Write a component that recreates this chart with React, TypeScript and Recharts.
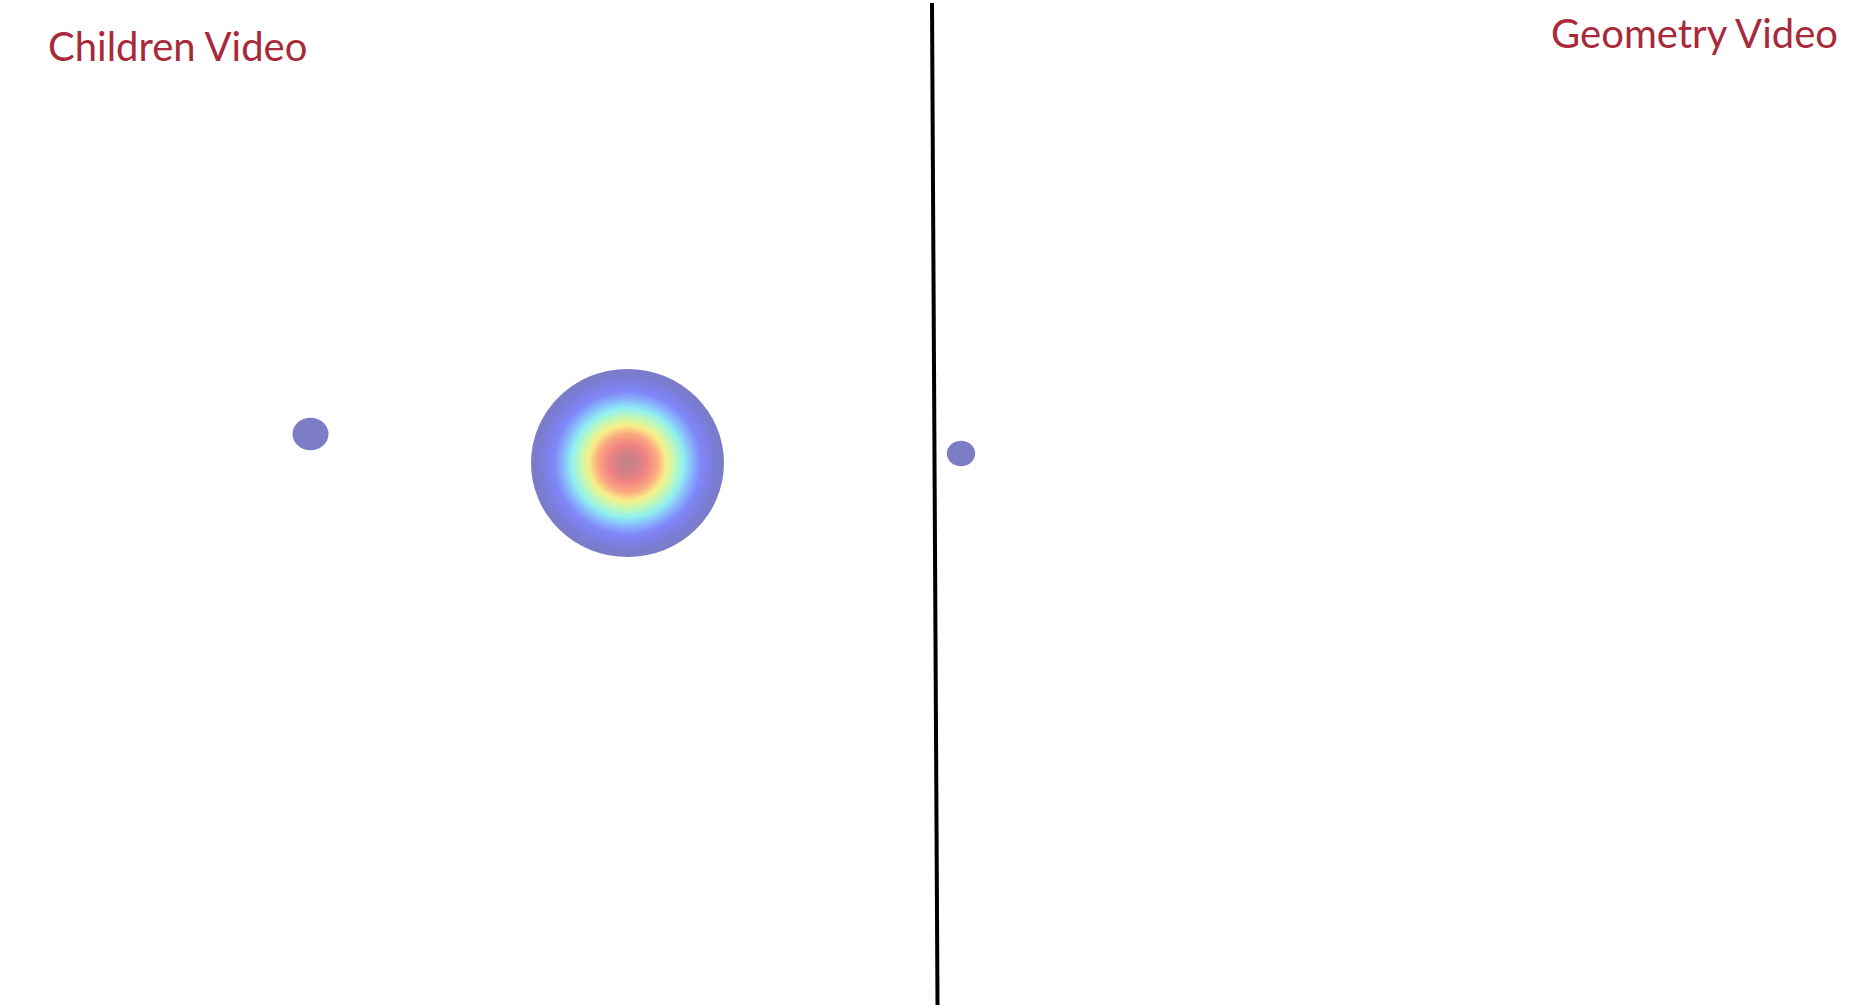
import { ScatterChart, Scatter, XAxis, YAxis, ZAxis, ReferenceLine } from 'recharts'

// gaze fixations in video-frame pixel coordinates
const fixX = [310.5, 627.5, 961]
const fixY = [434, 463, 453.5]
const fixWeight = [1.15, 33, 0.71] // relative dwell (area units)
const fixPeak = [0, 1, 0] // 1 = hot spot, 0 = cold spot

const dividerX = [932, 937.5]
const dividerY = [3, 1005]

const titles = ['Children Video', 'Geometry Video']

const W = 1876
const H = 1005

const fixations = fixX.map((x, i) => ({ x, y: fixY[i], z: fixWeight[i], peak: fixPeak[i] }))

// jet colormap, half transparent over white
const heatStops: [number, string][] = [
  [0, '#bc8688'],
  [0.1, '#d28084'],
  [0.2, '#f08282'],
  [0.31, '#fbaa80'],
  [0.4, '#f8ee88'],
  [0.48, '#c8f8b0'],
  [0.58, '#90f0f0'],
  [0.67, '#88b8fc'],
  [0.76, '#8088f8'],
  [0.84, '#7c80e8'],
  [0.92, '#7a7dd2'],
  [1, '#7a7cc6'],
]

const coldFill = '#7c7dc5'

function Blob(props: any) {
  const { cx, cy, width, payload } = props
  const r = width / 2
  const squash = payload.peak ? 0.975 : 0.9
  return (
    <ellipse
      cx={cx}
      cy={cy}
      rx={r}
      ry={r * squash}
      fill={payload.peak ? 'url(#heat)' : coldFill}
    />
  )
}

export default function App() {
  return (
    <div style={{ position: 'absolute', left: 0, top: 0, width: W, height: H, background: '#fff', overflow: 'hidden' }}>
      <ScatterChart width={W} height={H} margin={{ top: 0, right: 0, bottom: 0, left: 0 }}>
        <defs>
          <radialGradient id="heat" cx="50%" cy="50%" r="50%">
            {heatStops.map(([o, c]) => (
              <stop key={o} offset={o} stopColor={c} />
            ))}
          </radialGradient>
        </defs>
        <XAxis type="number" dataKey="x" domain={[0, W]} hide />
        <YAxis type="number" dataKey="y" domain={[0, H]} reversed hide width={0} />
        <ZAxis type="number" dataKey="z" domain={[0, 'dataMax']} range={[0, 29255]} />
        <ReferenceLine
          segment={[
            { x: dividerX[0], y: dividerY[0] },
            { x: dividerX[1], y: dividerY[1] },
          ]}
          stroke="#000"
          strokeWidth={4}
          ifOverflow="visible"
        />
        <Scatter data={fixations} shape={<Blob />} isAnimationActive={false} />
      </ScatterChart>
      <svg width={W} height={H} style={{ position: 'absolute', left: 0, top: 0, pointerEvents: 'none' }}>
        <text x={48} y={61} fill="#a82a3a" fontFamily="Lato" fontSize={40}>
          {titles[0]}
        </text>
        <text x={1838} y={48} textAnchor="end" fill="#a82a3a" fontFamily="Lato" fontSize={40}>
          {titles[1]}
        </text>
      </svg>
    </div>
  )
}
